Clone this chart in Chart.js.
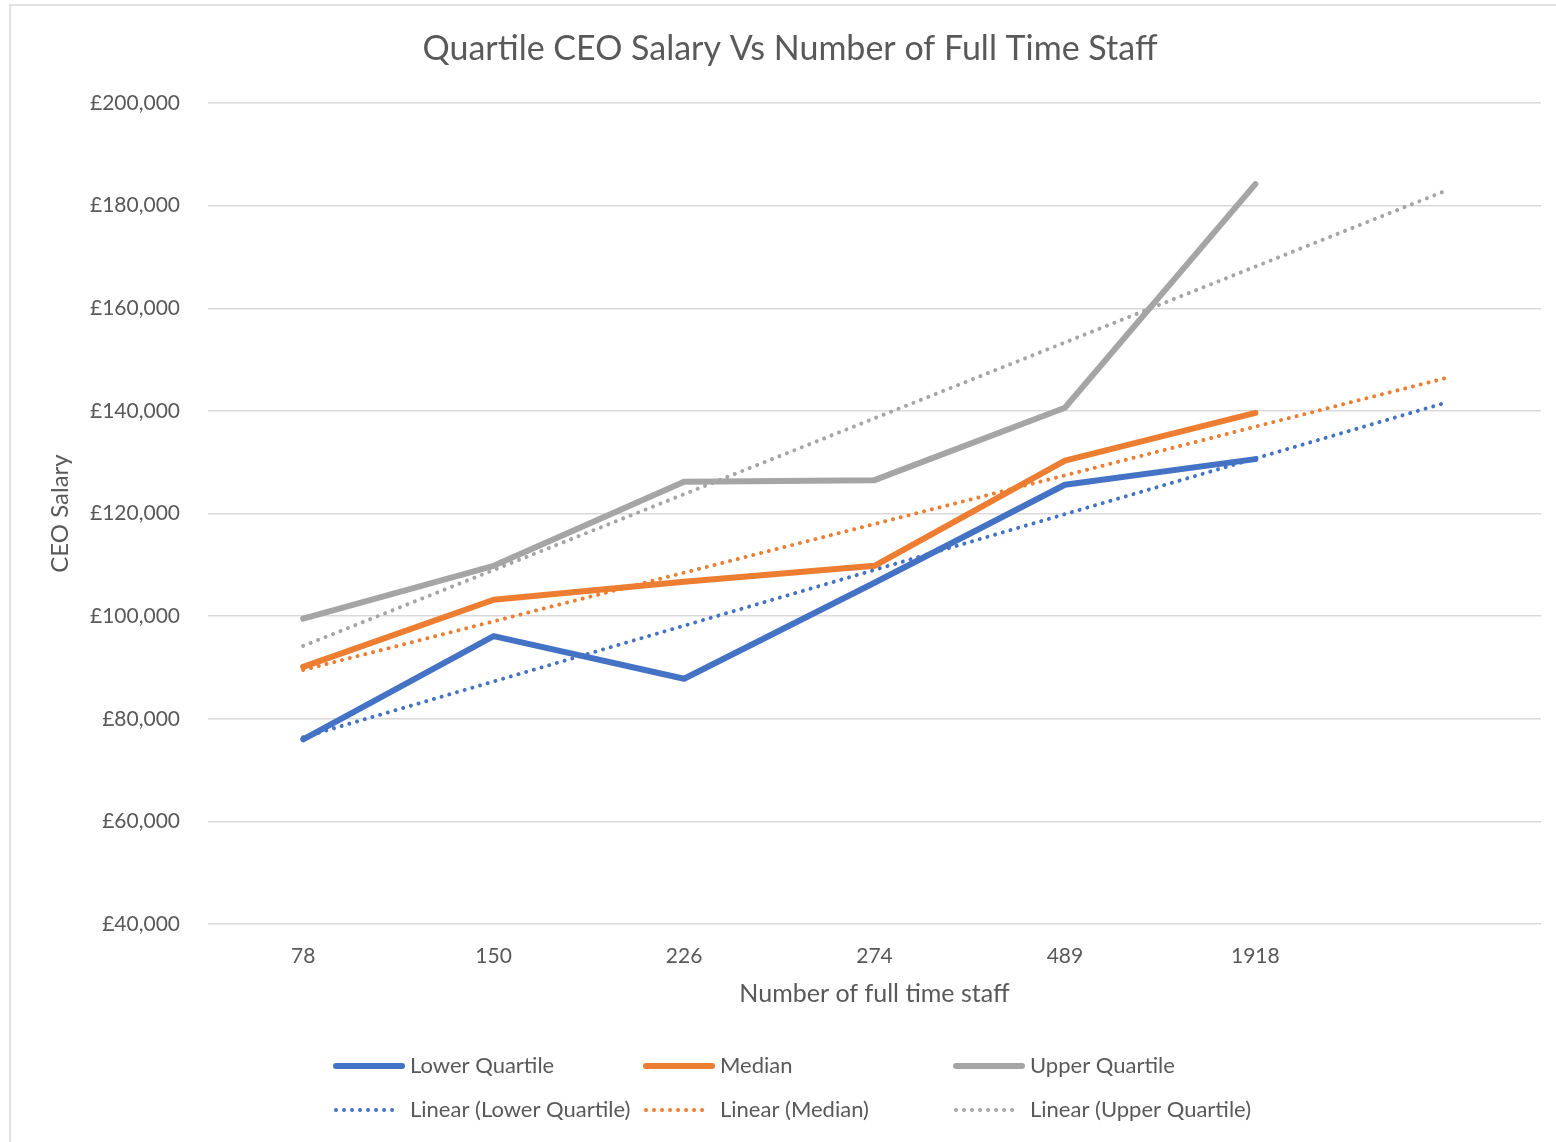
<!DOCTYPE html>
<html>
<head>
<meta charset="utf-8">
<script src="https://cdn.jsdelivr.net/npm/chart.js@4/dist/chart.umd.min.js"></script>
<style>
    html, body { margin: 0; padding: 0; background: #fff; }
    #wrap { width: 1556px; height: 1142px; position: relative; }
</style>
</head>
<body>
<div id="wrap"><canvas id="chart"></canvas></div>
<script>
// ===== Quartile CEO salary chart =====

// x categories (last one is the blank forecast slot for the trendlines)
const staffLabels = ['78', '150', '226', '274', '489', '1918', ''];

// series values
const lowerQuartile = [76000, 96100, 87800, 106500, 125600, 130600, null];
const median        = [90100, 103200, 106700, 109800, 130300, 139600, null];
const upperQuartile = [99500, 109800, 126200, 126500, 140600, 184200, null];

// linear trendlines: start and forecast end
const trendLower  = [76400, null, null, null, null, null, 141600];
const trendMedian = [89500, null, null, null, null, null, 146400];
const trendUpper  = [94200, null, null, null, null, null, 182900];

const yTicks = { min: 40000, max: 200000, step: 20000 };

const BLUE = '#4472C4';
const ORANGE = '#ED7D31';
const GREY = '#A5A5A5';
const TEXT = '#595959';
const GRID = '#D9D9D9';
const FONT = 'Lato, "Open Sans", sans-serif';

function solid(label, data, color) {
    return {
        label, data,
        borderColor: color,
        backgroundColor: color,
        borderWidth: 6,
        borderCapStyle: 'round',
        borderJoinStyle: 'round',
        pointRadius: 0,
        tension: 0,
        order: 2
    };
}

function dotted(label, data, color) {
    return {
        label, data,
        borderColor: color,
        backgroundColor: color,
        borderWidth: 4,
        borderDash: [0.01, 8],
        borderCapStyle: 'round',
        pointRadius: 0,
        spanGaps: true,
        tension: 0,
        order: 1
    };
}

// Title, frame and legend drawn by hand to match the Excel layout
const decorPlugin = {
    id: 'decor',
    beforeDraw(chart) {
        const ctx = chart.ctx;
        ctx.save();
        ctx.strokeStyle = GRID;
        ctx.lineWidth = 1.5;
        ctx.beginPath();
        ctx.moveTo(10, 1142);
        ctx.lineTo(10, 5);
        ctx.lineTo(1556, 5);
        ctx.stroke();
        ctx.restore();
    },
    afterDraw(chart) {
        const ctx = chart.ctx;
        ctx.save();
        ctx.fillStyle = TEXT;
        ctx.font = '34px ' + FONT;
        ctx.textAlign = 'center';
        ctx.textBaseline = 'middle';
        ctx.fillText('Quartile CEO Salary Vs Number of Full Time Staff', 790, 49);

        ctx.font = '22px ' + FONT;
        ctx.textAlign = 'left';
        chart.data.datasets.forEach((ds, i) => {
            const col = i % 3, row = Math.floor(i / 3);
            const x = 336 + col * 310;
            const y = 1066 + row * 44;
            ctx.strokeStyle = ds.borderColor;
            ctx.lineWidth = ds.borderWidth;
            ctx.lineCap = 'round';
            ctx.setLineDash(ds.borderDash || []);
            ctx.beginPath();
            ctx.moveTo(x, y);
            ctx.lineTo(x + (ds.borderDash ? 62 : 66), y);
            ctx.stroke();
            ctx.setLineDash([]);
            ctx.fillStyle = TEXT;
            ctx.fillText(ds.label, x + 74, y);
        });
        ctx.restore();
    }
};

new Chart(document.getElementById('chart').getContext('2d'), {
    type: 'line',
    data: {
        labels: staffLabels,
        datasets: [
            solid('Lower Quartile', lowerQuartile, BLUE),
            solid('Median', median, ORANGE),
            solid('Upper Quartile', upperQuartile, GREY),
            dotted('Linear (Lower Quartile)', trendLower, BLUE),
            dotted('Linear (Median)', trendMedian, ORANGE),
            dotted('Linear (Upper Quartile)', trendUpper, GREY)
        ]
    },
    options: {
        responsive: true,
        maintainAspectRatio: false,
        animation: false,
        layout: { padding: { top: 103, left: 0, right: 15, bottom: 0 } },
        plugins: {
            legend: { display: false },
            title: { display: false },
            tooltip: { enabled: false }
        },
        scales: {
            x: {
                offset: true,
                grid: { display: false },
                border: { display: false },
                ticks: {
                    color: TEXT,
                    font: { family: FONT, size: 21 },
                    padding: 12,
                    autoSkip: false,
                    maxRotation: 0
                },
                title: {
                    display: true,
                    text: 'Number of full time staff',
                    color: TEXT,
                    font: { family: FONT, size: 25 },
                    padding: { top: 0, bottom: 133 }
                },
                afterFit(scale) { scale.height = 218; }
            },
            y: {
                min: yTicks.min,
                max: yTicks.max,
                grid: { color: GRID, lineWidth: 1.5, drawTicks: false },
                border: { display: false },
                ticks: {
                    stepSize: yTicks.step,
                    color: TEXT,
                    font: { family: FONT, size: 21 },
                    padding: 28,
                    callback: v => '£' + v.toLocaleString('en-GB')
                },
                title: {
                    display: true,
                    text: 'CEO Salary',
                    color: TEXT,
                    font: { family: FONT, size: 24 },
                    padding: { top: 46, bottom: 0 }
                },
                afterFit(scale) { scale.width = 208; }
            }
        }
    },
    plugins: [decorPlugin]
});
</script>
</body>
</html>
